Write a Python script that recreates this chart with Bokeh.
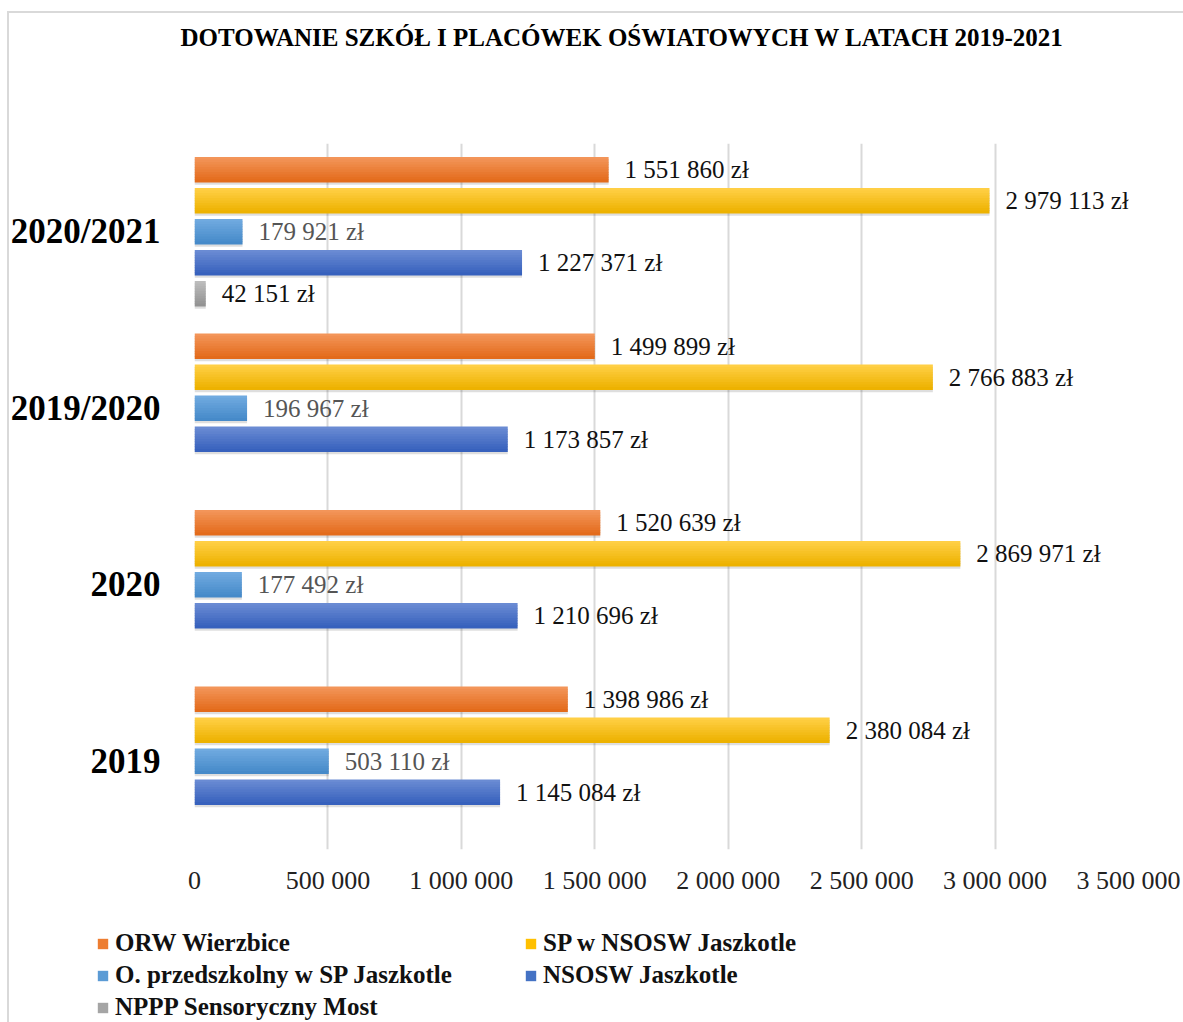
from bokeh.plotting import figure
from bokeh.layouts import column, row
from bokeh.models import (FactorRange, FixedTicker, Legend, LegendItem, Label,
                          ColumnDataSource, Range1d)
from bokeh.transform import dodge
from bokeh.core.properties import value
from bokeh.embed import file_html
from bokeh.resources import INLINE

# ---- data ----
groups = ["2019", "2020", "2019/2020", "2020/2021"]          # bottom -> top
series_names = ["ORW Wierzbice", "SP w NSOSW Jaszkotle",
                "O. przedszkolny w SP Jaszkotle", "NSOSW Jaszkotle",
                "NPPP Sensoryczny Most"]
orw = [1398986, 1520639, 1499899, 1551860]
sp = [2380084, 2869971, 2766883, 2979113]
oprz = [503110, 177492, 196967, 179921]
nsosw = [1145084, 1210696, 1173857, 1227371]
nppp = [None, None, None, 42151]
x_ticks = [0, 500000, 1000000, 1500000, 2000000, 2500000, 3000000, 3500000]
x_tick_labels = ["0", "500 000", "1 000 000", "1 500 000", "2 000 000",
                 "2 500 000", "3 000 000", "3 500 000"]
title_text = "DOTOWANIE SZKÓŁ I PLACÓWEK OŚWIATOWYCH W LATACH 2019-2021"

series_values = [orw, sp, oprz, nsosw, nppp]

# ---- styles ----
FONT = "Liberation Serif"
grad = [("#f39559", "#e36b1b"), ("#ffcf45", "#edb200"), ("#70aae0", "#468ac9"),
        ("#6a8bd3", "#3761bd"), ("#bcbcbc", "#939393")]
mid_cols = ["#ed7d31", "#ffc000", "#5b9bd5", "#4472c4", "#a5a5a5"]
label_cols = ["#111111", "#111111", "#555555", "#111111", "#111111"]

W = 1183
HT, HA, HB = 70, 845, 107


def bare(fig):
    fig.axis.visible = False
    fig.grid.grid_line_color = None
    fig.outline_line_color = None
    fig.min_border = 0
    fig.min_border_left = 0
    fig.min_border_right = 0
    fig.min_border_top = 0
    fig.min_border_bottom = 0
    fig.border_fill_alpha = 0
    fig.background_fill_alpha = 0


# ---- title figure ----
pt = figure(width=W, height=HT, x_range=Range1d(0, 1), y_range=Range1d(0, 1),
            output_backend="svg", toolbar_location=None)
bare(pt)
pt.add_layout(Label(x=180, y=HT - 37, x_units="screen", y_units="screen",
                    text=title_text, text_align="left", text_baseline="middle",
                    text_font=FONT, text_font_style="bold", text_font_size="25px",
                    text_color="#000000"))

# ---- main chart ----
p = figure(width=W, height=HA, y_range=FactorRange(*groups), x_range=(0, 3500000),
           output_backend="svg", toolbar_location=None,
           min_border_left=194, min_border_right=55, min_border_top=73,
           min_border_bottom=66)
p.outline_line_color = None
p.background_fill_color = "white"
p.border_fill_alpha = 0

unit_px = 706 / 4.0
bar_h = 25 / unit_px
pitch = 31 / unit_px
nstrip = 10
shadow_dy = 2.5 / unit_px


def lerp(c1, c2, t):
    a = [int(c1[i:i + 2], 16) for i in (1, 3, 5)]
    b = [int(c2[i:i + 2], 16) for i in (1, 3, 5)]
    return "#%02x%02x%02x" % tuple(round(a[j] + (b[j] - a[j]) * t) for j in range(3))


sources = []
for si, (name, vals) in enumerate(zip(series_names, series_values)):
    g = [gr for gr, v in zip(groups, vals) if v is not None]
    v = [vv for vv in vals if vv is not None]
    lab = [f"{vv:,}".replace(",", " ") + " zł" for vv in v]
    src = ColumnDataSource(dict(group=g, val=v, lab=lab))
    sources.append(src)
    offset = (2 - si) * pitch
    p.hbar(y=dodge("group", offset - shadow_dy, range=p.y_range), right="val", left=0,
           height=bar_h, source=src, fill_color="black", fill_alpha=0.13,
           line_color=None)
    for k in range(nstrip):
        t = k / (nstrip - 1)
        yc = offset + bar_h / 2 - (k + 0.5) * bar_h / nstrip
        p.hbar(y=dodge("group", yc, range=p.y_range), right="val", left=0,
               height=bar_h / nstrip * 1.15, source=src,
               fill_color=lerp(grad[si][0], grad[si][1], t), line_color=None)
    p.text(x="val", y=dodge("group", offset, range=p.y_range), text="lab", source=src,
           x_offset=16, text_baseline="middle", text_align="left",
           text_font=value(FONT), text_font_size="25px", text_color=label_cols[si])

p.xaxis.ticker = FixedTicker(ticks=x_ticks)
p.xaxis.major_label_overrides = {t: l for t, l in zip(x_ticks, x_tick_labels)}
p.xaxis.axis_line_color = None
p.xaxis.major_tick_line_color = None
p.xaxis.minor_tick_line_color = None
p.xaxis.major_label_text_font = FONT
p.xaxis.major_label_text_font_size = "26px"
p.xaxis.major_label_text_color = "#222222"
p.xaxis.major_label_standoff = 10

p.yaxis.axis_line_color = None
p.yaxis.major_tick_line_color = None
p.yaxis.minor_tick_line_color = None
p.yaxis.major_label_text_font = FONT
p.yaxis.major_label_text_font_style = "bold"
p.yaxis.major_label_text_font_size = "35px"
p.yaxis.major_label_text_color = "#000000"
p.yaxis.major_label_standoff = 28

p.xgrid.grid_line_color = "#d9d9d9"
p.xgrid.grid_line_width = 2
p.ygrid.grid_line_color = None

# ---- legend figure ----
pb = figure(width=W, height=HB, y_range=FactorRange(*groups), x_range=(0, 3500000),
            output_backend="svg", toolbar_location=None)
bare(pb)
items = []
for si, (name, src) in enumerate(zip(series_names, sources)):
    r = pb.hbar(y="group", right=0, left=0, height=0.0, source=src,
                fill_color=mid_cols[si], line_color=None)
    items.append(LegendItem(label=name, renderers=[r]))
legend = Legend(items=items, orientation="horizontal", ncols=2,
                location=(96, 1), label_text_font=FONT,
                label_text_font_style="bold", label_text_font_size="25px",
                label_text_color="#111111", glyph_width=13, glyph_height=13,
                label_standoff=6, spacing=4, padding=2, margin=0,
                border_line_color=None, background_fill_alpha=0,
                label_width=405)
pb.add_layout(legend, "center")

chart_border = ("linear-gradient(#d9d9d9,#d9d9d9) 7px 11px / 2px 1100px no-repeat, "
                "linear-gradient(#d9d9d9,#d9d9d9) 7px 11px / 1300px 2px no-repeat, "
                "#ffffff")
layout = column(row(pt), p, row(pb), spacing=0, styles={"background": chart_border})
open("out.html", "w").write(file_html(layout, INLINE))
